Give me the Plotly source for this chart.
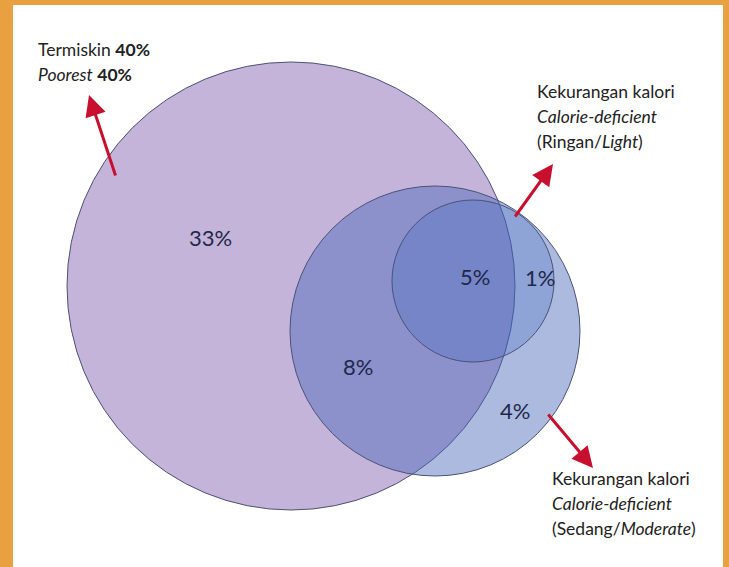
import plotly.graph_objects as go

# group shares (percent of population)
group_names = ["Termiskin", "Kekurangan kalori (Ringan)", "Kekurangan kalori (Sedang)"]
poorest_share = 40
region_values = [33, 8, 5, 1, 4]
region_names = ["poor only", "poor + moderate", "poor + moderate + light",
                "moderate + light", "moderate only"]

# label text
poor_lines = ["Termiskin <b>40%</b>", "<i>Poorest</i> <b>40%</b>"]
light_lines = ["Kekurangan kalori", "<i>Calorie-deficient</i>", "(Ringan/<i>Light</i>)"]
moderate_lines = ["Kekurangan kalori", "<i>Calorie-deficient</i>", "(Sedang/<i>Moderate</i>)"]

W, H = 729, 567

# circle layout (centre x, centre y, radius) in pixel space
circles = [
    dict(cx=291, cy=286, r=224, fill="rgba(197,180,218,1)"),
    dict(cx=435, cy=331, r=145, fill="rgba(72,102,184,0.45)"),
    dict(cx=473, cy=281, r=81, fill="rgba(45,95,190,0.24)"),
]
region_pos = [(210, 237), (358, 366), (475, 276), (540, 277), (515, 410)]

fig = go.Figure()
fig.add_trace(go.Scatter(x=[0, W], y=[0, H], mode="markers",
                         marker=dict(opacity=0), hoverinfo="skip", showlegend=False))

shapes = [dict(type="rect", x0=13, y0=5, x1=723, y1=H + 5,
               fillcolor="white", line=dict(width=0), layer="below")]
for c in circles:
    shapes.append(dict(type="circle", x0=c["cx"] - c["r"], x1=c["cx"] + c["r"],
                       y0=c["cy"] - c["r"], y1=c["cy"] + c["r"],
                       fillcolor=c["fill"], line=dict(color="#4A5278", width=1)))

font_txt = dict(family="Lato", size=17.5, color="#222222")
annotations = []

def add_lines(lines, x, y0, step=25):
    for i, t in enumerate(lines):
        annotations.append(dict(x=x, y=y0 + i * step, text=t, showarrow=False,
                                xanchor="left", yanchor="middle", font=font_txt))

add_lines(poor_lines, 36, 49)
add_lines(light_lines, 535, 91)
add_lines(moderate_lines, 550, 478)

for v, (x, y) in zip(region_values, region_pos):
    annotations.append(dict(x=x, y=y, text=f"{v}%", showarrow=False,
                            font=dict(family="Lato", size=22, color="#1F284A")))

arrows = [((116, 177), (89, 95)), ((514, 218), (553, 164)), ((547, 413), (593, 468))]
for (tx, ty), (hx, hy) in arrows:
    annotations.append(dict(x=hx, y=hy, ax=tx, ay=ty, axref="x", ayref="y",
                            xref="x", yref="y", text="", showarrow=True,
                            arrowhead=2, arrowsize=1.4, arrowwidth=3,
                            arrowcolor="#C8102E"))

fig.update_layout(
    width=W, height=H,
    margin=dict(l=0, r=0, t=0, b=0),
    paper_bgcolor="#E8A040", plot_bgcolor="rgba(0,0,0,0)",
    xaxis=dict(range=[0, W], visible=False, fixedrange=True),
    yaxis=dict(range=[H, 0], visible=False, fixedrange=True),
    shapes=shapes, annotations=annotations, showlegend=False,
)

fig.write_html("out.html", config={"displayModeBar": False},
               post_script="document.body.style.margin='0';")
